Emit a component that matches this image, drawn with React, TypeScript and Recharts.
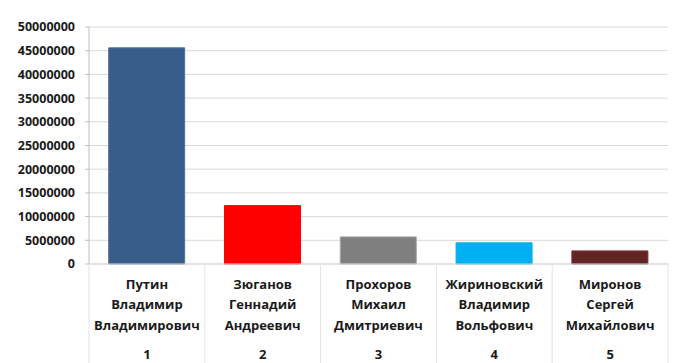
import { BarChart, Bar, XAxis, YAxis, CartesianGrid, Cell } from "recharts";

const surnames = ["Путин", "Зюганов", "Прохоров", "Жириновский", "Миронов"];
const firstNames = ["Владимир", "Геннадий", "Михаил", "Владимир", "Сергей"];
const patronymics = ["Владимирович", "Андреевич", "Дмитриевич", "Вольфович", "Михайлович"];
const places = ["1", "2", "3", "4", "5"];
const votes = [45602075, 12318353, 5722508, 4458103, 2763935];
const yTicks = [0, 5000000, 10000000, 15000000, 20000000, 25000000, 30000000, 35000000, 40000000, 45000000, 50000000];

const barColors = ["#385d8a", "#ff0000", "#7f7f7f", "#00b0f0", "#632523"];
const barStrokes = ["#4a72a4", "#ff0000", "#a6a6a6", "#00b0f0", "#7a3230"];

const data = surnames.map((s, i) => ({
  key: places[i],
  surname: s,
  first: firstNames[i],
  patronymic: patronymics[i],
  votes: votes[i],
}));

const W = 695;
const H = 363;
const M = { top: 27, right: 27, bottom: 0, left: 0 };
const Y_W = 89;
const X_H = 99;
const BAND = (W - M.left - M.right - Y_W) / data.length;
const FONT = "'Open Sans', sans-serif";

const CandidateTick = (props: any) => {
  const { x, y, index } = props;
  const d = data[index];
  const sep = "#e3e3e3";
  return (
    <g>
      <line x1={x - BAND / 2} x2={x - BAND / 2} y1={y} y2={H} stroke={sep} />
      {index === data.length - 1 && (
        <line x1={x + BAND / 2} x2={x + BAND / 2} y1={y} y2={H} stroke={sep} />
      )}
      <text
        x={x}
        textAnchor="middle"
        fontFamily={FONT}
        fontWeight={700}
        fontSize={13}
        fill="#1a1a1a"
      >
        <tspan x={x} y={y + 25}>{d.surname}</tspan>
        <tspan x={x} y={y + 45}>{d.first}</tspan>
        <tspan x={x} y={y + 66}>{d.patronymic}</tspan>
        <tspan x={x} y={y + 95}>{d.key}</tspan>
      </text>
    </g>
  );
};

export default function App() {
  return (
    <div style={{ position: "absolute", left: 0, top: 0, width: W, height: H, background: "#fff" }}>
      <BarChart width={W} height={H} data={data} margin={M} barCategoryGap="17%">
        <CartesianGrid vertical={false} stroke="#d9d9d9" />
        <XAxis
          dataKey="key"
          interval={0}
          tickSize={0}
          tickMargin={0}
          axisLine={{ stroke: "#d9d9d9" }}
          tick={<CandidateTick />}
          height={X_H}
        />
        <YAxis
          width={Y_W}
          domain={[0, 50000000]}
          ticks={yTicks}
          interval={0}
          tickSize={4}
          tickMargin={10}
          axisLine={{ stroke: "#bfbfbf" }}
          tickLine={{ stroke: "#bfbfbf" }}
          tick={{ fontFamily: FONT, fontWeight: 700, fontSize: 12.5, fill: "#1a1a1a" }}
        />
        <Bar dataKey="votes" isAnimationActive={false}>
          {data.map((d, i) => (
            <Cell key={d.key} fill={barColors[i]} stroke={barStrokes[i]} />
          ))}
        </Bar>
      </BarChart>
    </div>
  );
}
